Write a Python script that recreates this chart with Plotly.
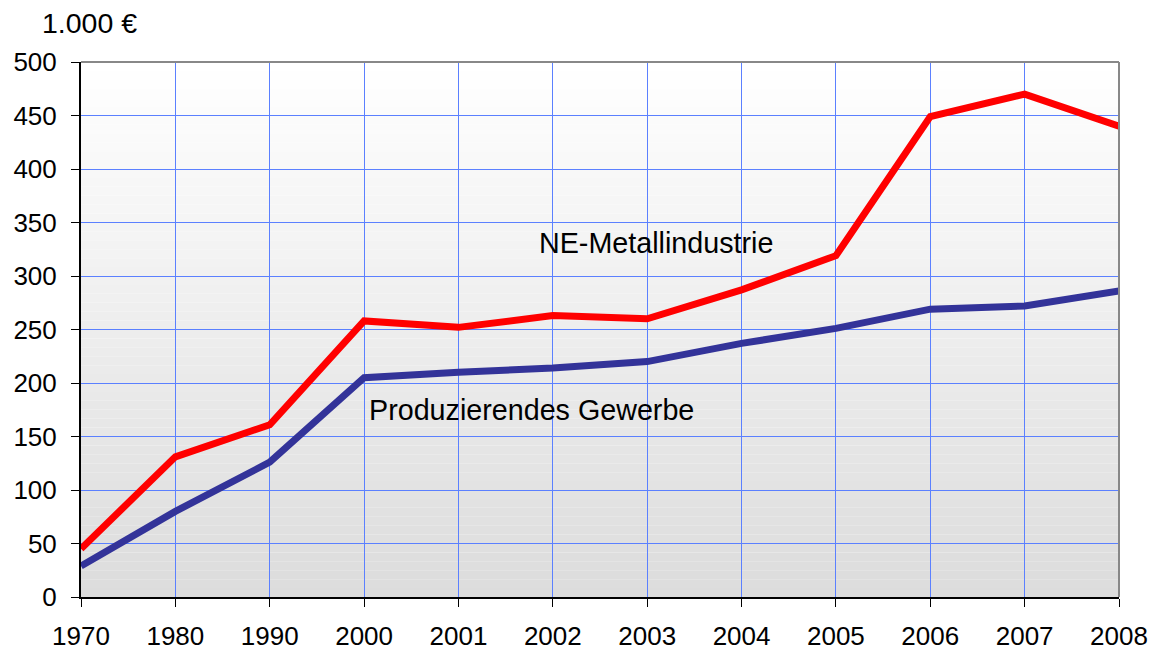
import plotly.graph_objects as go

years = ["1970", "1980", "1990", "2000", "2001", "2002", "2003",
         "2004", "2005", "2006", "2007", "2008"]
ne_metall = [45, 131, 161, 258, 252, 263, 260, 287, 319, 449, 470, 440]
prod_gewerbe = [29, 80, 126, 205, 210, 214, 220, 237, 251, 269, 272, 286]

font = "Liberation Sans, Arial, sans-serif"

fig = go.Figure()
fig.add_trace(go.Scatter(x=years, y=prod_gewerbe, mode="lines",
                         line=dict(color="#333399", width=7),
                         name="Produzierendes Gewerbe"))
fig.add_trace(go.Scatter(x=years, y=ne_metall, mode="lines",
                         line=dict(color="#ff0000", width=7),
                         name="NE-Metallindustrie"))

# gradient background, white at top to light grey at bottom
shapes = []
n = 60
for i in range(n):
    t = i / (n - 1)
    c = int(round(255 - (255 - 220) * (1 - t)))
    shapes.append(dict(type="rect", xref="paper", yref="paper",
                       x0=0, x1=1, y0=i / n, y1=(i + 1) / n,
                       fillcolor=f"rgb({c},{c},{c})", line_width=0,
                       layer="below"))
# grey top and right frame
shapes.append(dict(type="line", xref="paper", yref="paper", x0=0, x1=1,
                   y0=1, y1=1, line=dict(color="#888888", width=2)))
shapes.append(dict(type="line", xref="paper", yref="paper", x0=1, x1=1,
                   y0=0, y1=1, line=dict(color="#888888", width=2)))

# page body adds 8px, so the figure is 8px smaller than the window
fig.update_layout(
    width=1149, height=645,
    margin=dict(l=73, r=38, t=54, b=56),
    paper_bgcolor="white",
    plot_bgcolor="rgba(0,0,0,0)",
    showlegend=False,
    font=dict(family=font, size=26, color="black"),
    shapes=shapes,
    annotations=[
        dict(text="NE-Metallindustrie", x=6.09, y=331, xref="x", yref="y",
             showarrow=False, font=dict(size=28.7), xanchor="center",
             yanchor="middle"),
        dict(text="Produzierendes Gewerbe", x=4.77, y=175, xref="x", yref="y",
             showarrow=False, font=dict(size=28.7), xanchor="center",
             yanchor="middle"),
        dict(text="1.000 €", x=-0.0395, y=1.0, xref="paper", yref="paper",
             yshift=39, showarrow=False, font=dict(size=28.5),
             xanchor="left", yanchor="middle"),
    ],
)
fig.update_xaxes(type="category", range=[0, 11], showgrid=True,
                 gridcolor="#5b80ff", gridwidth=1, automargin=False,
                 showline=True, linecolor="black", linewidth=2,
                 ticks="outside", ticklen=8, tickcolor="black",
                 ticklabelstandoff=7, zeroline=False)
fig.update_yaxes(range=[0, 500], dtick=50, showgrid=True,
                 gridcolor="#5b80ff", gridwidth=1, automargin=False,
                 showline=True, linecolor="black", linewidth=2,
                 ticks="outside", ticklen=8, tickcolor="black",
                 ticklabelstandoff=9, zeroline=False)

fig.write_html("out.html")
